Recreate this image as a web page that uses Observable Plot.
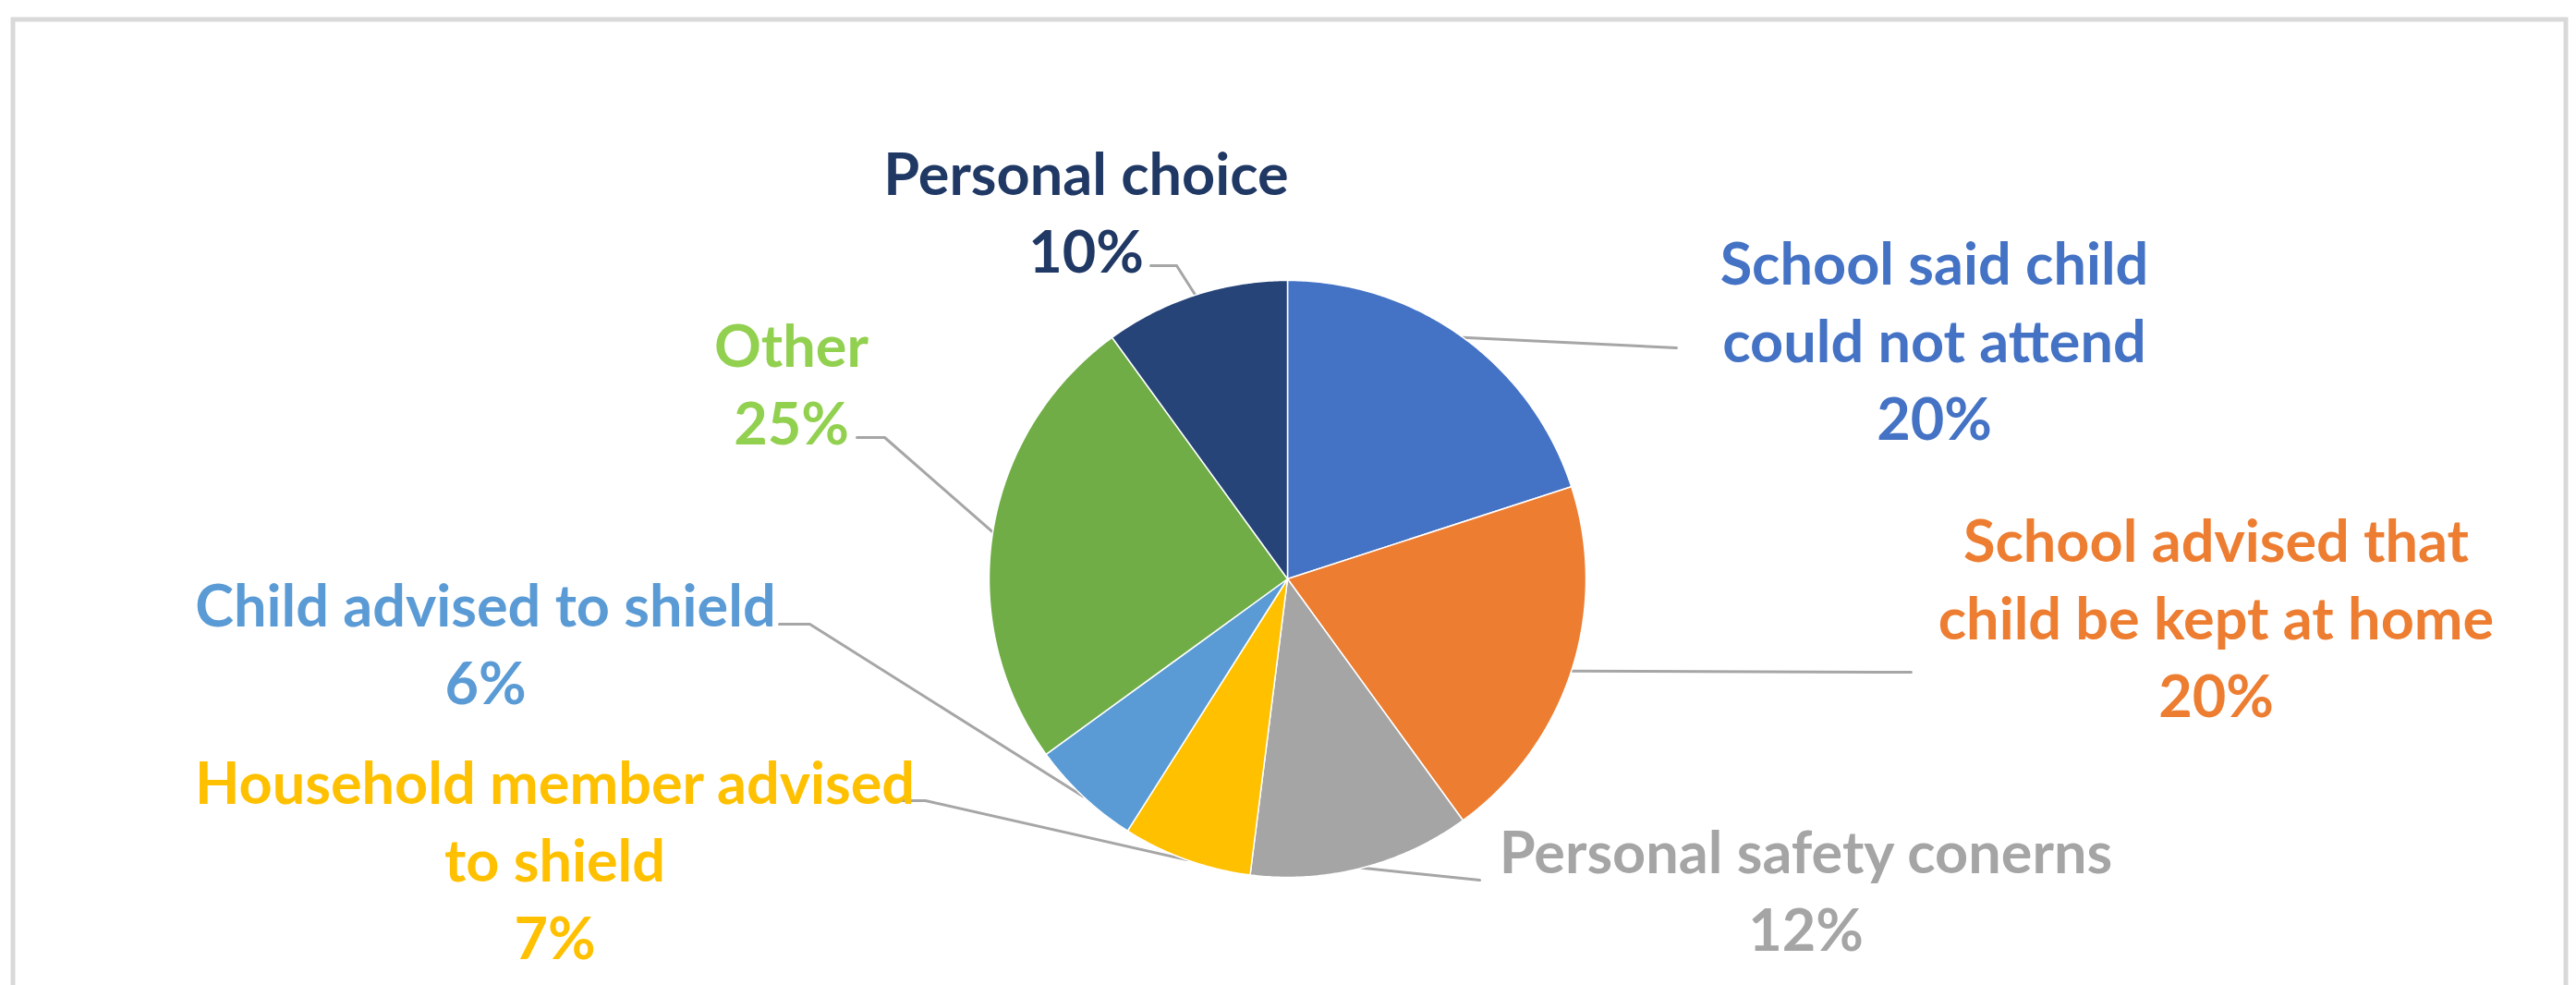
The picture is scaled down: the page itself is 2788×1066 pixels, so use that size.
<!DOCTYPE html>
<html>
<head>
<meta charset="utf-8">
<script src="https://cdn.jsdelivr.net/npm/d3@7"></script>
<script src="https://cdn.jsdelivr.net/npm/@observablehq/plot@0.6"></script>
<style>
  html, body { margin: 0; padding: 0; background: #ffffff; }
  #chart svg { display: block; }
</style>
</head>
<body>
<div id="chart"></div>
<script>
// ---------- data ----------
const categories = [
  "School said child could not attend",
  "School advised that child be kept at home",
  "Personal safety conerns",
  "Household member advised to shield",
  "Child advised to shield",
  "Other",
  "Personal choice"
];
const values = [20, 20, 12, 7, 6, 25, 10];
// label text as wrapped in the reference
const labelNames = [
  "School said child\ncould not attend",
  "School advised that\nchild be kept at home",
  "Personal safety conerns",
  "Household member advised\nto shield",
  "Child advised to shield",
  "Other",
  "Personal choice"
];

// ---------- styles / layout ----------
const sliceColors = ["#4472C4", "#ED7D31", "#A5A5A5", "#FFC000", "#5B9BD5", "#70AD47", "#264478"];
const labelColors = ["#4472C4", "#ED7D31", "#A5A5A5", "#FFC000", "#5B9BD5", "#92D050", "#203864"];
const W = 2788, H = 1066;
const pieCenter = [1393, 626];
const pieRadius = 323;
// label block centres (px)
const labelX = [2093, 2398, 1954, 600, 525, 856, 1175];
const labelY = [365, 665, 960, 927, 693, 412, 226];
// leader lines: elbow and end points (px)
const leaderElbow = [[1814, 376], [2068, 727], [1601, 952], [1001, 866], [876, 675], [957, 473], [1273, 287]];
const leaderEnd   = [[1814, 376], [2068, 727], [1601, 952], [972, 866],  [843, 675], [927, 473], [1245, 287]];
const fontSize = 63;

// ---------- derived ----------
const [cx, cy] = pieCenter, r = pieRadius;
const arcs = d3.pie().sort(null).value(d => d)(values);

function arcPoints(a0, a1, withCenter) {
  const n = Math.max(4, Math.ceil((a1 - a0) / (Math.PI / 360)));
  const pts = withCenter ? [{x: cx, y: cy}] : [];
  for (let j = 0; j <= n; j++) {
    const t = a0 + (a1 - a0) * j / n;
    pts.push({x: cx + r * Math.sin(t), y: cy - r * Math.cos(t)});
  }
  if (withCenter) pts.push({x: cx, y: cy});
  return pts;
}

const slices = arcs.map((a, i) => ({pts: arcPoints(a.startAngle, a.endAngle, true), color: sliceColors[i]}));
const fullCircle = arcPoints(0, 2 * Math.PI, false);

const leaderPts = arcs.flatMap((a, i) => {
  const m = (a.startAngle + a.endAngle) / 2;
  return [
    {x: cx + r * Math.sin(m), y: cy - r * Math.cos(m), k: i},
    {x: leaderElbow[i][0], y: leaderElbow[i][1], k: i},
    {x: leaderEnd[i][0], y: leaderEnd[i][1], k: i}
  ];
});

const labels = categories.map((c, i) => ({
  x: labelX[i], y: labelY[i],
  text: `${labelNames[i]}\n${values[i]}%`,
  color: labelColors[i]
}));

const plot = Plot.plot({
  width: W,
  height: H,
  margin: 0,
  style: {background: "#ffffff", fontFamily: "Lato, 'Open Sans', sans-serif", overflow: "visible"},
  x: {domain: [0, W], range: [0, W], axis: null},
  y: {domain: [0, H], range: [0, H], axis: null},
  color: {type: "identity"},
  marks: [
    Plot.frame({stroke: "#D9D9D9", strokeWidth: 5, insetLeft: 13.5, insetTop: 20.5, insetRight: 11.5, insetBottom: -30}),
    Plot.line(leaderPts, {x: "x", y: "y", z: "k", stroke: "#A6A6A6", strokeWidth: 3, curve: "linear"}),
    Plot.line(fullCircle, {x: "x", y: "y", fill: "#9a9a9a", stroke: "none", curve: "linear", ariaLabel: "pie-shadow"}),
    ...slices.map(s => Plot.line(s.pts, {x: "x", y: "y", fill: s.color, stroke: "#ffffff", strokeWidth: 1.5, curve: "linear"})),
    Plot.text(labels, {
      x: "x", y: "y", text: "text", fill: "color",
      fontSize, fontWeight: "bold", lineHeight: 84 / fontSize,
      textAnchor: "middle", lineAnchor: "middle"
    })
  ]
});

const sh = plot.querySelector('g[aria-label="pie-shadow"]');
if (sh) { sh.style.filter = "blur(7px)"; sh.setAttribute("opacity", "0.55"); sh.setAttribute("transform", "translate(0,3)"); }
document.getElementById("chart").appendChild(plot);
</script>
</body>
</html>
